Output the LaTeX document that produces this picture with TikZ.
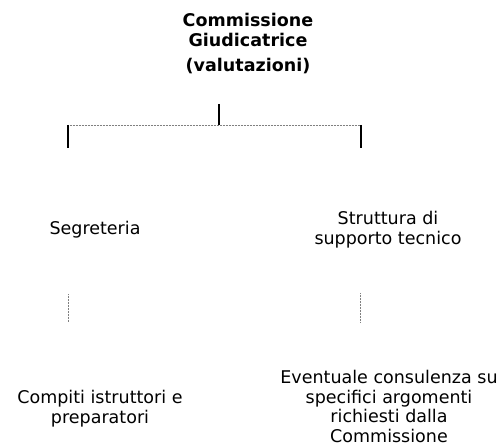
\documentclass[tikz,border=0pt]{standalone}
\usepackage{fontspec}
\setmainfont{DejaVu Sans}
\usetikzlibrary{positioning}
\tikzset{
  testo/.style={inner sep=0pt, align=center, anchor=base, font=\fontsize{17.5}{19.5}\selectfont},
  titolo/.style={testo, font=\fontsize{17.5}{20}\selectfont\bfseries},
  tratto/.style={line width=1.6pt},
  traccia/.style={gray, line width=0.5pt, densely dotted}
}
\begin{document}
\begin{tikzpicture}[x=1pt,y=-1pt]
  \useasboundingbox (0,0) rectangle (502,446);
  % blocchi di testo (ancorati alla linea di base dell'ultima riga)
  \node[titolo] (commissione) at (248,72)
    {Commissione\\Giudicatrice\\[5pt](valutazioni)};
  \node[testo] (segreteria) at (95,234) {Segreteria};
  \node[testo] (struttura) at (388,244) {Struttura di\\supporto tecnico};
  \node[testo] (compiti) at (100,423) {Compiti istruttori e\\preparatori};
  \node[testo] (consulenza) at (389,442) {Eventuale consulenza su\\specifici argomenti\\richiesti dalla\\Commissione};
  % punti dei collegamenti
  \coordinate (stub) at (219,104);
  \coordinate (hub) at (219,125);
  \coordinate (sx) at (68,125);
  \coordinate (dx) at (361,125);
  \coordinate (sxend) at (68,148);
  \coordinate (dxend) at (361,148);
  \coordinate (sxa) at (68,294);
  \coordinate (sxb) at (68,322);
  \coordinate (dxa) at (360,293);
  \coordinate (dxb) at (360,322);
  % collegamenti
  \draw[tratto] (stub) -- (hub);
  \draw[traccia] (sx) -- (hub) -- (dx);
  \draw[tratto] (sx) -- (sxend);
  \draw[tratto] (dx) -- (dxend);
  \draw[traccia] (sxa) -- (sxb);
  \draw[traccia] (dxa) -- (dxb);
\end{tikzpicture}
\end{document}
